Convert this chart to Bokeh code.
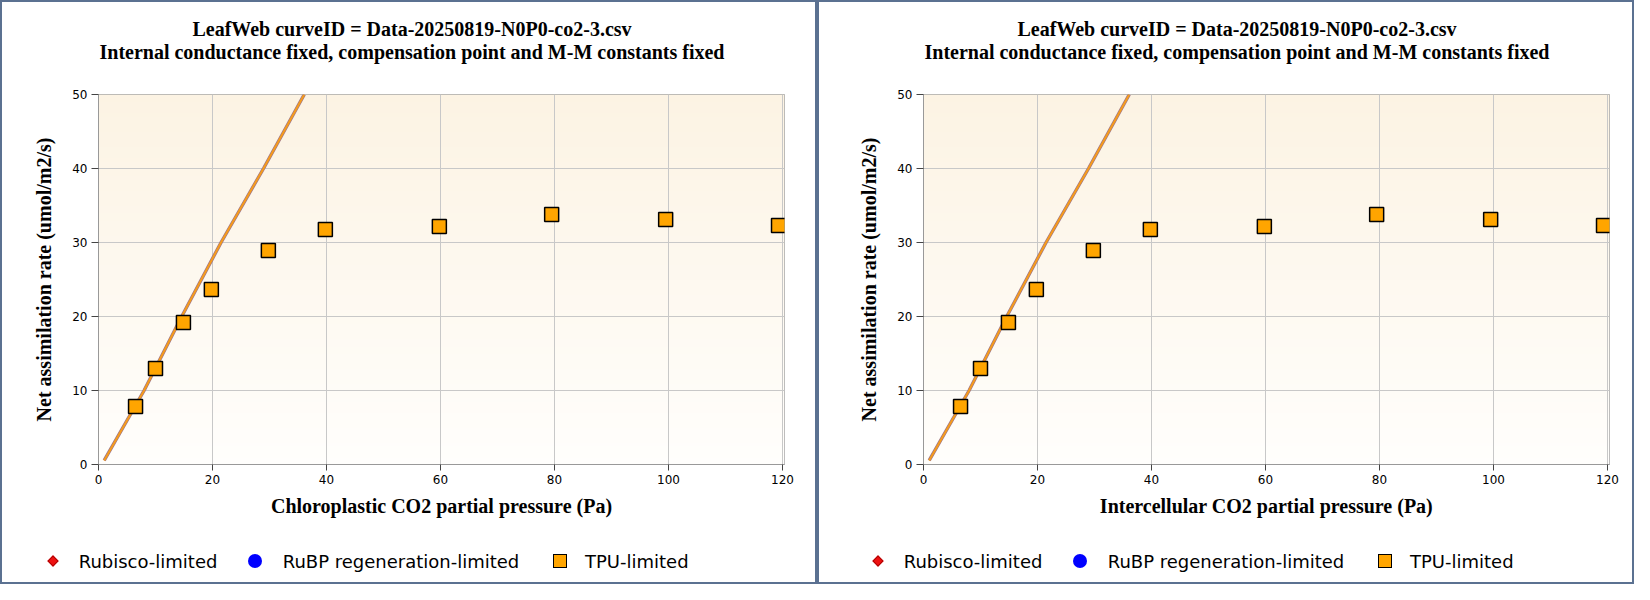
import numpy as np
from bokeh.plotting import figure
from bokeh.layouts import row, column
from bokeh.models import ColumnDataSource, FixedTicker, Range1d, Div
from bokeh.embed import file_html
from bokeh.resources import INLINE

# ---------------- data ----------------
title_line1 = "LeafWeb curveID = Data-20250819-N0P0-co2-3.csv"
title_line2 = "Internal conductance fixed, compensation point and M-M constants fixed"
x_labels = ["Chloroplastic CO2 partial pressure (Pa)", "Intercellular CO2 partial pressure (Pa)"]
y_label = "Net assimilation rate (umol/m2/s)"

tpu_x = [6.5, 10.0, 14.9, 19.8, 29.8, 39.8, 59.8, 79.5, 99.5, 119.3]
tpu_y = [7.84, 12.97, 19.19, 23.65, 28.92, 31.76, 32.16, 33.78, 33.11, 32.3]

rubisco_x = []
rubisco_y = []
rubp_x = []
rubp_y = []

model_x = [1.0, 8.0, 14.6, 21.5, 28.95, 36.1]
model_y = [0.55, 10.0, 20.0, 30.0, 40.0, 50.0]

x_ticks = [0, 20, 40, 60, 80, 100, 120]
y_ticks = [0, 10, 20, 30, 40, 50]
x_max = 120.35
y_max = 50

legend_labels = ["Rubisco-limited", "RuBP regeneration-limited", "TPU-limited"]

# ---------------- styling ----------------
TOP_RGB = (252, 243, 227)
BOT_RGB = (255, 254, 252)
W = 813
H_TITLE = 70
H_MAIN = 452
H_LEG = 58
FRAME_TOP = 22
FRAME_H = 370

# legend layout (pixels inside the legend strip, before panel shift)
LEG_SWATCH_X = [53.2, 255.3, 559.5]
LEG_TEXT_X = [78.7, 282.7, 585.0]
LEG_CY = 37.4
LEG_TEXT_TOP = 27.8


def gradient_image(n=200):
    t = np.linspace(0.0, 1.0, n)[:, None]  # 0 bottom -> 1 top
    img = np.empty((n, 1), dtype=np.uint32)
    view = img.view(dtype=np.uint8).reshape((n, 1, 4))
    for k in range(3):
        view[:, :, k] = np.round(BOT_RGB[k] + (TOP_RGB[k] - BOT_RGB[k]) * t).astype(np.uint8)
    view[:, :, 3] = 255
    return img


def title_div(center_x):
    html = (
        f'<div style="position:relative;width:{W}px;height:{H_TITLE}px;background:#ffffff;">'
        f'<div style="position:absolute;left:{center_x - 400}px;top:15.6px;width:800px;'
        'text-align:center;font-family:\'Liberation Serif\';font-weight:bold;font-size:20px;'
        f'line-height:23.3px;white-space:nowrap;color:#000000;">{title_line1}<br>{title_line2}</div>'
        '</div>'
    )
    return Div(text=html, width=W, height=H_TITLE, margin=0,
               styles={"background-color": "#ffffff"})


def legend_div(shift):
    sx = [v + shift for v in LEG_SWATCH_X]
    tx = [v + shift for v in LEG_TEXT_X]
    cy = LEG_CY
    swatches = [
        # red diamond
        f'<div style="position:absolute;left:{sx[0] - 4}px;top:{cy - 4}px;width:8px;height:8px;'
        'box-sizing:border-box;border:1px solid #b00000;'
        'background:#ee1111;transform:rotate(45deg);"></div>',
        # blue circle
        f'<div style="position:absolute;left:{sx[1] - 7}px;top:{cy - 7}px;width:14px;height:14px;'
        'border-radius:50%;background:#0000ff;"></div>',
        # orange square with black edge
        f'<div style="position:absolute;left:{sx[2] - 7}px;top:{cy - 7}px;width:14px;height:14px;'
        'box-sizing:border-box;border:1.5px solid #000000;background:#ffa500;"></div>',
    ]
    texts = [
        f'<span style="position:absolute;left:{x}px;top:{LEG_TEXT_TOP}px;line-height:20px;'
        f'white-space:nowrap;">{lab}</span>'
        for x, lab in zip(tx, legend_labels)
    ]
    html = (
        f'<div style="position:relative;width:{W}px;height:{H_LEG}px;background:#ffffff;'
        'font-family:\'DejaVu Sans\';font-size:18px;color:#000000;">'
        + "".join(swatches) + "".join(texts) + '</div>'
    )
    return Div(text=html, width=W, height=H_LEG, margin=0,
               styles={"background-color": "#ffffff"})


def make_plot(xlabel, mb_left, mb_right):
    p = figure(width=W, height=H_MAIN, output_backend="svg", toolbar_location=None,
               x_range=Range1d(0, x_max), y_range=Range1d(0, y_max),
               min_border_left=mb_left, min_border_right=mb_right,
               min_border_top=FRAME_TOP, min_border_bottom=H_MAIN - FRAME_TOP - FRAME_H,
               title=None)
    p.background_fill_color = "white"
    p.border_fill_color = "white"
    p.outline_line_color = "#a8a8a8"
    p.outline_line_width = 1

    p.image_rgba(image=[gradient_image()], x=0, y=0, dw=x_max, dh=y_max, level="image")

    for ax in (p.xaxis[0], p.yaxis[0]):
        ax.axis_line_color = "#999999"
        ax.major_tick_line_color = "#444444"
        ax.major_tick_in = 0
        ax.major_tick_out = 6
        ax.minor_tick_line_color = None
        ax.major_label_text_font = "DejaVu Sans"
        ax.major_label_text_font_size = "12px"
        ax.major_label_text_color = "#000000"
        ax.axis_label_text_font = "Liberation Serif"
        ax.axis_label_text_font_style = "bold"
        ax.axis_label_text_font_size = "20px"
        ax.axis_label_text_color = "#000000"
    p.xaxis[0].ticker = FixedTicker(ticks=x_ticks)
    p.yaxis[0].ticker = FixedTicker(ticks=y_ticks)
    p.xaxis[0].axis_label = xlabel
    p.yaxis[0].axis_label = y_label
    p.xaxis[0].major_label_standoff = 4
    p.yaxis[0].major_label_standoff = 4
    p.xaxis[0].axis_label_standoff = 8
    p.yaxis[0].axis_label_standoff = 14
    p.yaxis[0].major_tick_out = 7

    p.xgrid.ticker = FixedTicker(ticks=x_ticks)
    p.ygrid.ticker = FixedTicker(ticks=y_ticks)
    p.xgrid.grid_line_color = "#c8c8c8"
    p.ygrid.grid_line_color = "#c8c8c8"

    msrc = ColumnDataSource(dict(x=model_x, y=model_y))
    p.line("x", "y", source=msrc, line_color="#a07888", line_width=3.4)
    p.line("x", "y", source=msrc, line_color="#f59b1c", line_width=2.0)

    # series (Rubisco- and RuBP-limited have no points in this fit)
    p.scatter(x=rubisco_x, y=rubisco_y, marker="diamond", size=14,
              fill_color="#ee1111", line_color="#ee1111")
    p.scatter(x=rubp_x, y=rubp_y, marker="circle", size=14,
              fill_color="#0000ff", line_color="#0000ff")
    p.scatter(x=tpu_x, y=tpu_y, marker="square", size=14,
              fill_color="#ffa500", line_color="#000000", line_width=1.5)
    return p


def make_panel(xlabel, mb_left, mb_right, title_cx, leg_shift):
    return column(title_div(title_cx), make_plot(xlabel, mb_left, mb_right),
                  legend_div(leg_shift), spacing=0,
                  styles={"background-color": "#ffffff"})


c1 = make_panel(x_labels[0], 96, 31, 410, -2)
c2 = make_panel(x_labels[1], 104, 23, 418, 6)

layout = row(c1, c2, spacing=4,
             styles={"background-color": "#5b7191", "padding": "2px"})

open("out.html", "w").write(file_html(layout, INLINE))
